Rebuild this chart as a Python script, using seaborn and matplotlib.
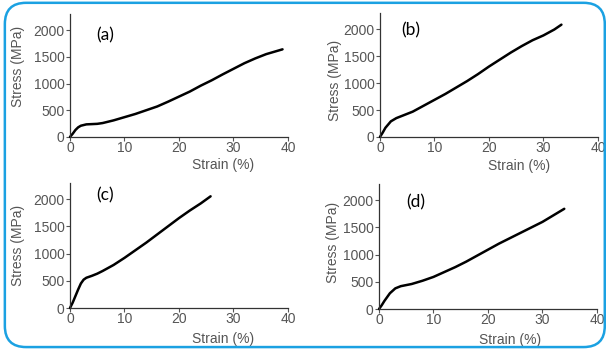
import numpy as np
import pandas as pd
import seaborn as sns
import matplotlib
matplotlib.use("Agg")
import matplotlib.pyplot as plt
from matplotlib.patches import FancyBboxPatch

# stress-strain curves (strain in %, stress in MPa)
strain_a = [0, 0.5, 1, 1.5, 2, 3, 4, 5, 6, 8, 10, 12, 14, 16, 18, 20, 22, 24, 26, 28, 30, 32, 34, 36, 38, 39]
stress_a = [0, 60, 130, 180, 210, 235, 240, 245, 260, 310, 370, 430, 500, 570, 660, 755, 850, 960, 1060, 1170, 1275, 1380, 1470, 1550, 1610, 1640]

strain_b = [0, 0.5, 1, 2, 3, 4, 6, 8, 10, 12, 14, 16, 18, 20, 22, 24, 26, 28, 30, 32, 33.3]
stress_b = [0, 80, 170, 290, 350, 390, 470, 580, 690, 800, 920, 1040, 1170, 1310, 1440, 1570, 1690, 1800, 1890, 2000, 2090]

strain_c = [0, 0.5, 1, 1.5, 2, 2.5, 3, 4, 5, 6, 8, 10, 12, 14, 16, 18, 20, 22, 24, 25.8]
stress_c = [0, 100, 220, 340, 450, 520, 555, 590, 630, 680, 790, 920, 1060, 1200, 1350, 1500, 1650, 1790, 1920, 2050]

strain_d = [0, 0.5, 1, 2, 3, 4, 5, 6, 8, 10, 12, 14, 16, 18, 20, 22, 24, 26, 28, 30, 32, 34]
stress_d = [0, 70, 150, 290, 380, 420, 440, 460, 520, 590, 680, 770, 870, 980, 1090, 1200, 1300, 1400, 1500, 1600, 1720, 1840]

panel_labels = ["(a)", "(b)", "(c)", "(d)"]
label_pos = [(6.4, 1900), (5.6, 1980), (6.4, 2060), (6.7, 1960)]
x_ticks = [0, 10, 20, 30, 40]
y_ticks = [0, 500, 1000, 1500, 2000]

sns.set_theme(style="ticks")
plt.rcParams['font.family'] = ['Liberation Sans', 'DejaVu Sans']

fig = plt.figure(figsize=(6.06, 3.52), dpi=100)

# rounded blue frame around the whole figure
frame = FancyBboxPatch((0.008, 0.014), 0.99, 0.978, boxstyle="round,pad=0,rounding_size=0.035",
                       transform=fig.transFigure, fill=False, edgecolor="#1ba1e2",
                       linewidth=1.8, mutation_aspect=606 / 352)
fig.patches.append(frame)

boxes = [
    [0.1155, 0.611, 0.3597, 0.349],
    [0.627, 0.611, 0.3597, 0.351],
    [0.1155, 0.125, 0.3597, 0.356],
    [0.6254, 0.122, 0.3597, 0.356],
]
curves = [(strain_a, stress_a), (strain_b, stress_b), (strain_c, stress_c), (strain_d, stress_d)]
xlabel_xy = [(0.70, -0.175), (0.64, -0.175), (0.70, -0.195), (0.60, -0.19)]
ylabel_xy = [(-0.206, 0.57), (-0.174, 0.46), (-0.206, 0.50), (-0.179, 0.53)]

grey = "#555555"
for i, (box, (sx, sy)) in enumerate(zip(boxes, curves)):
    ax = fig.add_axes(box)
    df = pd.DataFrame({"strain": sx, "stress": sy})
    sns.lineplot(data=df, x="strain", y="stress", ax=ax, color="black", linewidth=1.8,
                 sort=False, clip_on=False)
    ax.set_xlim(0, 40)
    ax.set_ylim(0, 2300)
    ax.set_xticks(x_ticks)
    ax.set_yticks(y_ticks)
    ax.tick_params(axis="both", labelsize=10, colors=grey, length=3, width=0.8, pad=1)
    ax.tick_params(axis="x", pad=0)
    for sp in ["left", "bottom"]:
        ax.spines[sp].set_color("#333333")
        ax.spines[sp].set_linewidth(0.9)
    sns.despine(ax=ax)
    ax.set_xlabel("Strain (%)", fontsize=10, color=grey)
    ax.set_ylabel("Stress (MPa)", fontsize=10, color=grey)
    ax.xaxis.set_label_coords(*xlabel_xy[i])
    ax.yaxis.set_label_coords(*ylabel_xy[i])
    ax.set_facecolor("none")
    lx, ly = label_pos[i]
    ax.text(lx, ly, panel_labels[i], fontsize=12.5, color="black", family=["Lato", "DejaVu Sans"],
            ha="center", va="center")

fig.savefig("out.png", dpi=100)
